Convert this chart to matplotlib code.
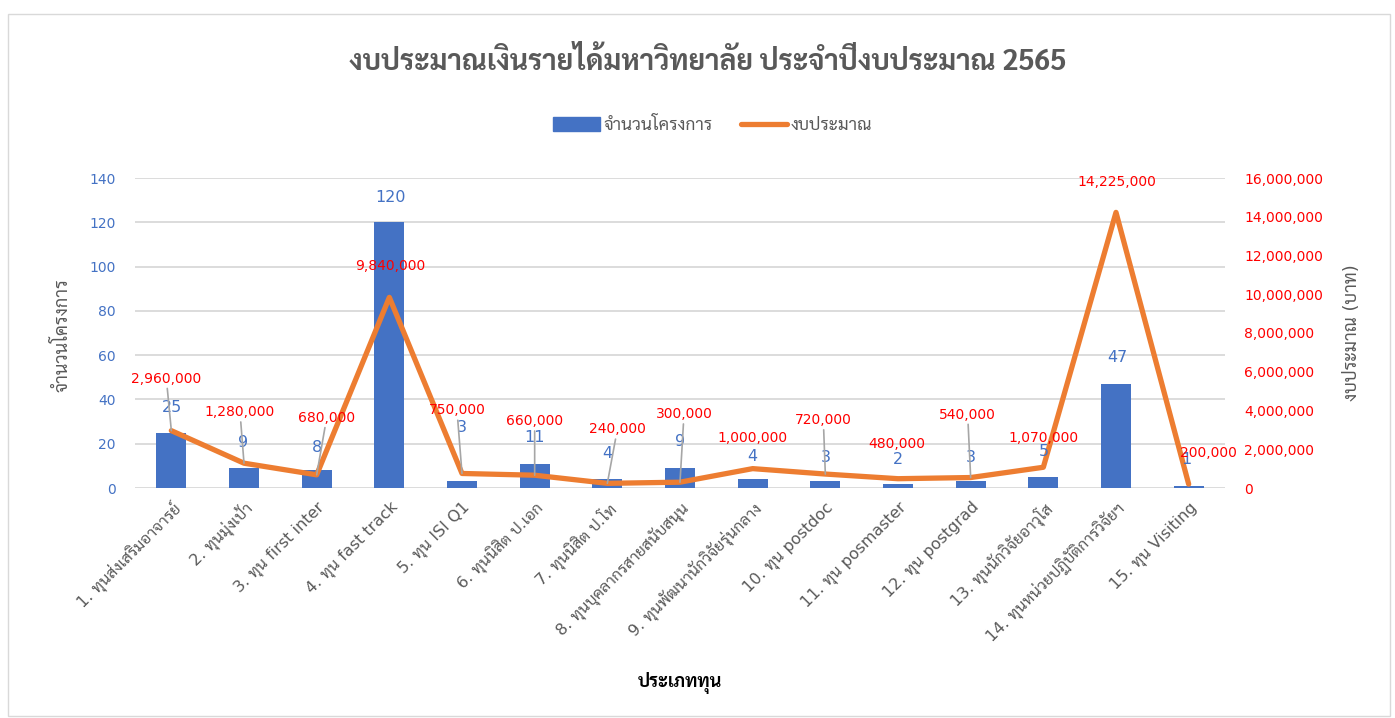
import matplotlib
matplotlib.use('Agg')
import matplotlib.pyplot as plt
import matplotlib.ticker as mticker
from matplotlib import font_manager
from matplotlib.patches import Patch, Rectangle
from matplotlib.lines import Line2D

# data
categories = ['1. ทุนส่งเสริมอาจารย์', '2. ทุนมุ่งเป้า', '3. ทุน first inter',
              '4. ทุน fast track', '5. ทุน ISI Q1', '6. ทุนนิสิต ป.เอก',
              '7. ทุนนิสิต ป.โท', '8. ทุนบุคลากรสายสนับสนุน',
              '9. ทุนพัฒนานักวิจัยรุ่นกลาง', '10. ทุน postdoc',
              '11. ทุน posmaster', '12. ทุน postgrad', '13. ทุนนักวิจัยอาวุโส',
              '14. ทุนหน่วยปฏิบัติการวิจัยฯ', '15. ทุน Visiting']
projects = [25, 9, 8, 120, 3, 11, 4, 9, 4, 3, 2, 3, 5, 47, 1]
budget = [2960000, 1280000, 680000, 9840000, 750000, 660000, 240000, 300000,
          1000000, 720000, 480000, 540000, 1070000, 14225000, 200000]

# label placement (pixels from the point), as Excel left them
bar_lab_off = [(1, 25), (-1, 26), (0, 23), (1, 25), (0, 54), (0, 26), (0, 26), (0, 27),
               (0, 23), (0, 24), (0, 24), (0, 24), (0, 25), (1, 26), (-2, 26)]
line_lab_off = [(-5, 52), (-4, 51), (10, 57), (1, 31), (-5, 63), (0, 54), (10, 54), (4, 68),
                (0, 31), (-2, 54), (-1, 35), (-3, 63), (0, 29), (1, 30), (20, 31)]

# pick a Thai font that has a static bold face
fonts = font_manager.fontManager.ttflist
thai = None
for cand in ['Noto Sans Thai Looped', 'Noto Sans Thai', 'Sarabun', 'IBM Plex Sans Thai Looped',
             'IBM Plex Sans Thai', 'Anuphan', 'Bai Jamjuree']:
    fam = [f for f in fonts if f.name == cand and '[' not in f.fname]
    if any(f.weight in (700, 'bold') for f in fam) and any(f.weight in (400, 'normal', 'regular') for f in fam):
        thai = cand
        break
if thai is None:
    for cand in ['Noto Sans Thai Looped', 'Sarabun', 'Noto Sans Thai']:
        if any(f.name == cand for f in fonts):
            thai = cand
            break
plt.rcParams['font.family'] = ['DejaVu Sans', thai] if thai else ['DejaVu Sans']
thai_first = [thai, 'DejaVu Sans'] if thai else ['DejaVu Sans']

BLUE = '#4472C4'
ORANGE = '#ED7D31'
GRAY = '#595959'

fig = plt.figure(figsize=(13.95, 7.18), dpi=100)
fig.patches.append(Rectangle((8 / 1395, 0.003), 1382 / 1395, 1 - 14 / 718 - 0.003,
                             transform=fig.transFigure, fill=False,
                             edgecolor='#D9D9D9', lw=1))
ax = fig.add_axes([135 / 1395, 1 - 488 / 718, 1090 / 1395, 310 / 718])
ax2 = ax.twinx()

x = list(range(len(categories)))
ax.bar(x, projects, width=0.41, color=BLUE, zorder=2)
ax2.plot(x, budget, color=ORANGE, lw=3.8, solid_joinstyle='round',
         solid_capstyle='round', zorder=3)

ax.set_xlim(-0.5, len(categories) - 0.5)
ax.set_ylim(0, 140)
ax.set_yticks(range(0, 141, 20))
ax2.set_ylim(0, 16000000)
ax2.set_yticks(range(0, 16000001, 2000000))
ax2.yaxis.set_major_formatter(mticker.FuncFormatter(lambda v, p: '{:,.0f}'.format(v)))

ax.yaxis.grid(True, color='#D9D9D9', lw=1.3, zorder=0)
ax.set_axisbelow(True)
for a in (ax, ax2):
    for s in a.spines.values():
        s.set_visible(False)
    a.tick_params(length=0)
ax.tick_params(axis='y', colors=BLUE, labelsize=10, pad=14)
ax2.tick_params(axis='y', colors='#FF0000', labelsize=10, pad=14)

ax.set_xticks(x)
ax.set_xticklabels(categories, rotation=45, ha='right', va='top',
                   rotation_mode='anchor', fontsize=11.5, color=GRAY)
ax.tick_params(axis='x', pad=8)

# data labels
for i, v in enumerate(projects):
    ax2.annotate(str(v), xy=(i, v), xycoords=ax.transData,
                 xytext=bar_lab_off[i], textcoords='offset pixels',
                 ha='center', va='center', fontsize=11.5, color=BLUE, zorder=5)
for i, v in enumerate(budget):
    dx, dy = line_lab_off[i]
    arrow = None
    if dy > 40:
        arrow = dict(arrowstyle='-', color='#A6A6A6', lw=1.2, shrinkA=0, shrinkB=0)
    ax2.annotate('{:,}'.format(v), xy=(i, v), xytext=(dx, dy),
                 textcoords='offset pixels', ha='center', va='center',
                 fontsize=10, color='#FF0000', arrowprops=arrow, zorder=6)

# titles and axis names
fig.text(0.507, 1 - 63 / 718, 'งบประมาณเงินรายได้มหาวิทยาลัย ประจำปีงบประมาณ 2565',
         ha='center', va='center', fontsize=20.4, fontweight='bold', color=GRAY,
         family=thai_first)
fig.text(62 / 1395, 1 - 335 / 718, 'จำนวนโครงการ', rotation=90,
         ha='center', va='center', fontsize=13, color=GRAY)
fig.text(1352 / 1395, 1 - 333 / 718, 'งบประมาณ (บาท)', rotation=90,
         ha='center', va='center', fontsize=13, color=GRAY)
fig.text(680 / 1395, 1 - 683 / 718, 'ประเภททุน', ha='center', va='center',
         fontsize=13, fontweight='bold', color='black', family=thai_first)

handles = [Patch(facecolor=BLUE, edgecolor=BLUE),
           Line2D([0], [0], color=ORANGE, lw=3.8, solid_capstyle='round')]
fig.legend(handles, ['จำนวนโครงการ', 'งบประมาณ'], loc='center',
           bbox_to_anchor=(0.511, 1 - 125 / 718), ncol=2, frameon=False,
           fontsize=12.5, labelcolor=GRAY, handlelength=2.7, handleheight=0.8,
           columnspacing=1.6, handletextpad=0.2)

fig.savefig('out.png', dpi=100)
